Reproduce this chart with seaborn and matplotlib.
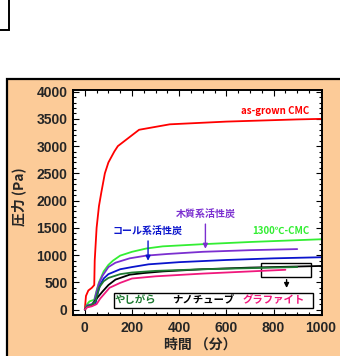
import matplotlib
matplotlib.use("Agg")
import matplotlib.pyplot as plt
from matplotlib.patches import Rectangle
from matplotlib.ticker import MultipleLocator
import seaborn as sns
import pandas as pd

# ---- data ----
red_x = [0, 5, 15, 30, 40, 42, 50, 60, 70, 85, 100, 125, 140, 230, 360, 600, 900, 1000]
red_y = [0, 250, 350, 400, 450, 900, 1500, 1900, 2150, 2500, 2700, 2900, 3000, 3300, 3400, 3450, 3490, 3500]
green_x = [0, 10, 20, 40, 50, 60, 80, 100, 120, 150, 200, 260, 330, 500, 700, 1000]
green_y = [0, 100, 150, 180, 350, 500, 700, 820, 900, 990, 1060, 1120, 1160, 1200, 1240, 1290]
purple_x = [0, 10, 30, 40, 50, 60, 75, 100, 130, 190, 260, 350, 500, 700, 900]
purple_y = [0, 80, 100, 150, 330, 480, 620, 780, 860, 940, 990, 1020, 1060, 1090, 1110]
blue_x = [0, 10, 30, 45, 55, 65, 80, 100, 150, 200, 270, 400, 600, 800, 1000]
blue_y = [0, 60, 80, 100, 300, 450, 570, 650, 740, 780, 830, 870, 910, 940, 960]
black_x = [0, 10, 30, 50, 75, 100, 130, 190, 250, 330, 500, 700, 1000]
black_y = [0, 50, 80, 200, 330, 450, 550, 640, 670, 700, 740, 770, 800]
dgreen_x = [0, 10, 30, 45, 60, 80, 100, 150, 200, 300, 500, 700, 900]
dgreen_y = [0, 60, 90, 150, 400, 520, 580, 650, 680, 710, 740, 760, 780]
pink_x = [0, 10, 30, 50, 65, 85, 105, 150, 200, 300, 500, 700, 850]
pink_y = [0, 40, 60, 100, 200, 300, 400, 490, 570, 610, 660, 700, 730]

series_names = ["as-grown CMC", "1300℃-CMC", "木質系活性炭", "コール系活性炭", "ナノチューブ", "やしがら", "グラファイト"]
series_colors = ["#FF0000", "#33EE33", "#7B2FD0", "#0A14CC", "#000000", "#1E7A32", "#F0187C"]
x_ticks = [0, 200, 400, 600, 800, 1000]
y_ticks = [0, 500, 1000, 1500, 2000, 2500, 3000, 3500, 4000]

frames = []
for name, xs, ys in zip(series_names,
                        [red_x, green_x, purple_x, blue_x, black_x, dgreen_x, pink_x],
                        [red_y, green_y, purple_y, blue_y, black_y, dgreen_y, pink_y]):
    frames.append(pd.DataFrame({"t": xs, "p": ys, "s": name}))
df = pd.concat(frames, ignore_index=True)

sns.set_theme(style="ticks")
jp = ["Noto Sans CJK JP", "DejaVu Sans"]
plt.rcParams["font.family"] = ["Liberation Sans", "Noto Sans CJK JP", "DejaVu Sans"]

fig = plt.figure(figsize=(3.4, 3.56), dpi=100)
fig.patch.set_facecolor("white")

# peach panel
fig.patches.append(Rectangle((7 / 340, -0.05), 1.1, 1 - 79 / 356 + 0.05, transform=fig.transFigure,
                             facecolor="#FCCB98", edgecolor="black", linewidth=1.6, zorder=-10))
# small box top-left
fig.patches.append(Rectangle((-0.05, 1 - 30 / 356), 0.05 + 9 / 340, 0.2, transform=fig.transFigure,
                             facecolor="white", edgecolor="black", linewidth=1.4, zorder=-10))

ax = fig.add_axes([73 / 340, 1 - 315 / 356, (322 - 73) / 340, (315 - 90) / 356])
ax.set_facecolor("white")

sns.lineplot(data=df, x="t", y="p", hue="s", hue_order=series_names,
             palette=dict(zip(series_names, series_colors)), sort=False,
             estimator=None, linewidth=1.3, legend=False, ax=ax)

ax.set_xlim(-50, 1005)
ax.set_ylim(-100, 4030)
ax.set_xticks(x_ticks)
ax.set_yticks(y_ticks)
ax.xaxis.set_minor_locator(MultipleLocator(50))
ax.yaxis.set_minor_locator(MultipleLocator(100))
ax.tick_params(which="both", direction="in", top=True, right=True, labeltop=False, labelright=False,
               width=0.8, color="black")
ax.tick_params(which="major", length=4, labelsize=10, pad=4)
ax.tick_params(which="minor", length=2)
for lab in ax.get_xticklabels() + ax.get_yticklabels():
    lab.set_fontweight("bold")
for sp in ax.spines.values():
    sp.set_linewidth(1.4)
    sp.set_color("black")

ax.set_xlabel("")
ax.set_ylabel("")
fig.text(200 / 340, 1 - 345 / 356, "時間 （分）", ha="center", va="center", fontsize=10,
         fontweight="bold", family=jp)
fig.text(19 / 340, 1 - 197 / 356, "圧力 (Pa)", ha="center", va="center", rotation=90,
         fontsize=10, fontweight="bold", family=jp)

# annotations
ax.text(808, 3650, "as-grown CMC", color="#FF0000", fontsize=7, fontweight="bold",
        ha="center", va="center", family=jp)
ax.text(830, 1435, "1300℃-CMC", color="#33EE33", fontsize=7, fontweight="bold",
        ha="center", va="center", family=jp)
ax.text(511, 1730, "木質系活性炭", color="#7B2FD0", fontsize=7.2, fontweight="bold",
        ha="center", va="center", family=jp)
ax.annotate("", xy=(511, 1065), xytext=(511, 1620),
            arrowprops=dict(arrowstyle="-|>", color="#7B2FD0", lw=1.0, mutation_scale=7))
ax.text(264, 1420, "コール系活性炭", color="#0A14CC", fontsize=7.2, fontweight="bold",
        ha="center", va="center", family=jp)
ax.annotate("", xy=(268, 845), xytext=(268, 1310),
            arrowprops=dict(arrowstyle="-|>", color="#0A14CC", lw=1.0, mutation_scale=7))

# highlight rectangle and arrow to legend box
ax.add_patch(Rectangle((745, 600), 212, 255, facecolor="none", edgecolor="black", linewidth=1.0))
ax.annotate("", xy=(855, 345), xytext=(855, 600),
            arrowprops=dict(arrowstyle="-|>", color="black", lw=1.0, mutation_scale=7))

# legend box
ax.add_patch(Rectangle((123, 36), 843, 274, facecolor="white", edgecolor="black", linewidth=1.0, zorder=3))
ax.text(213, 180, "やしがら", color="#1E7A32", fontsize=7.5, fontweight="bold",
        ha="center", va="center", family=jp, zorder=4)
ax.text(502, 180, "ナノチューブ", color="black", fontsize=7.5, fontweight="bold",
        ha="center", va="center", family=jp, zorder=4)
ax.text(800, 180, "グラファイト", color="#F0187C", fontsize=7.5, fontweight="bold",
        ha="center", va="center", family=jp, zorder=4)

fig.savefig("out.png", dpi=100)
